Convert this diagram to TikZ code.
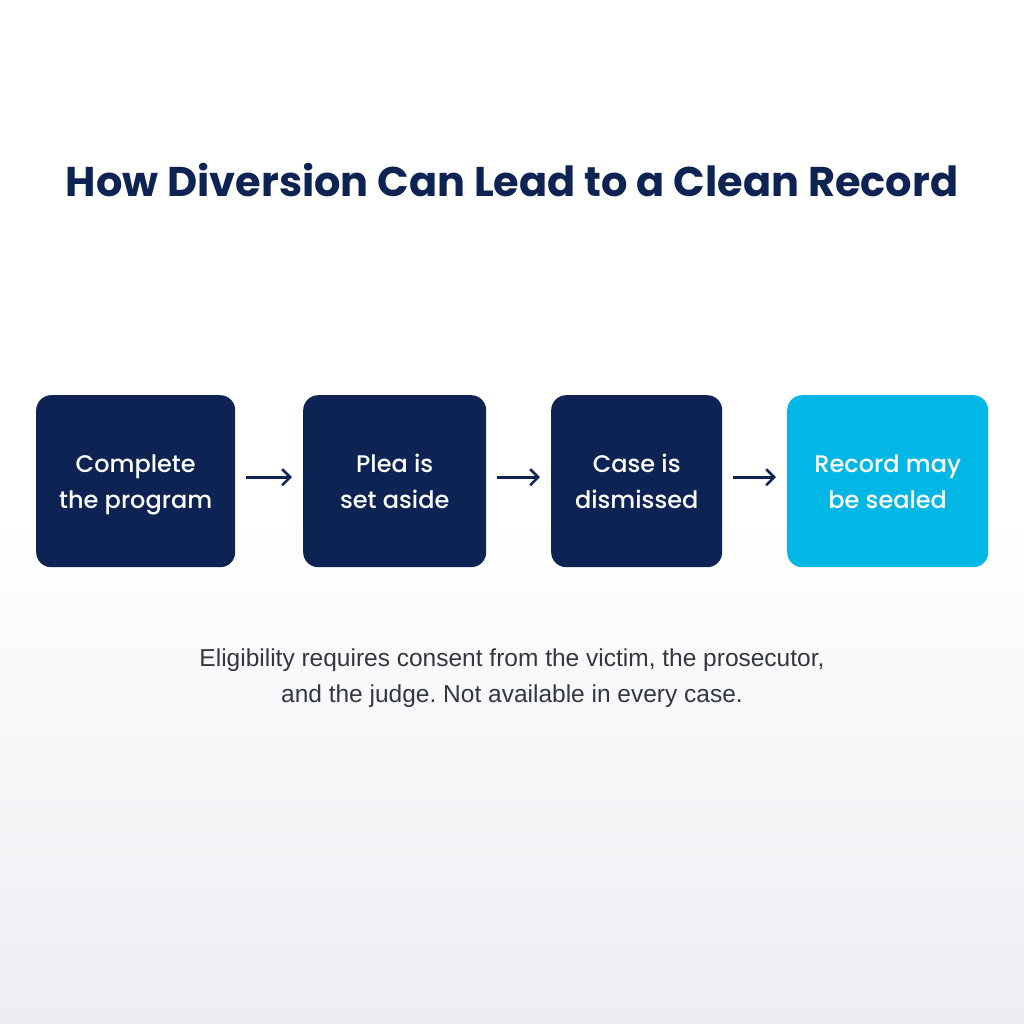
\documentclass[tikz,border=0pt]{standalone}
\usepackage{fontspec}
\setmainfont{Poppins}
\newfontfamily\boxfont{Poppins Medium}
\newfontfamily\notefont{Liberation Sans}
\usetikzlibrary{arrows.meta,shadings}
\definecolor{navy}{HTML}{0C2354}
\definecolor{cyanbox}{HTML}{02B6E6}
\definecolor{notegray}{HTML}{333740}
\definecolor{bgbottom}{HTML}{ECEEF2}
\frenchspacing
\newcommand{\highstrut}{\rule{0pt}{29.2pt}}
\tikzset{
  stepbox/.style={rounded corners=15pt, fill=navy, text=white, align=center,
    font=\boxfont\fontsize{24}{36}\selectfont, inner sep=0pt, anchor=north west},
  flowarrow/.style={draw=navy, line width=2.6pt, -{Straight Barb[length=8pt,width=16pt,line width=2.6pt]}}
}
\begin{document}
\begin{tikzpicture}[x=1pt,y=-1pt]
\useasboundingbox (0,0) rectangle (1024,1024);
\shade[top color=white, bottom color=bgbottom, middle color=white] (0,0) rectangle (1024,1024);
\node[font=\fontsize{41.5}{50}\selectfont\bfseries, text=navy] (title) at (512,180) {How Diversion Can Lead to a Clean Record};
\node[stepbox, minimum width=199pt, minimum height=172pt] (b1) at (36,395) {\highstrut Complete\\the program\strut};
\node[stepbox, minimum width=183pt, minimum height=172pt] (b2) at (303,395) {\highstrut Plea is\\set aside\strut};
\node[stepbox, minimum width=171pt, minimum height=172pt] (b3) at (551,395) {\highstrut Case is\\dismissed\strut};
\node[stepbox, fill=cyanbox, minimum width=201pt, minimum height=172pt] (b4) at (787,395) {\highstrut Record may\\be sealed\strut};
\draw[flowarrow] ([xshift=11pt,yshift=4pt]b1.east) -- ([xshift=-11pt,yshift=4pt]b2.west);
\draw[flowarrow] ([xshift=11pt,yshift=4pt]b2.east) -- ([xshift=-11pt,yshift=4pt]b3.west);
\draw[flowarrow] ([xshift=11pt,yshift=4pt]b3.east) -- ([xshift=-11pt,yshift=4pt]b4.west);
\node[font=\notefont\fontsize{24.5}{36}\selectfont, text=notegray, align=center] (note) at (512,678) {Eligibility requires consent from the victim, the prosecutor,\\and the judge. Not available in every case.};
\end{tikzpicture}
\end{document}
